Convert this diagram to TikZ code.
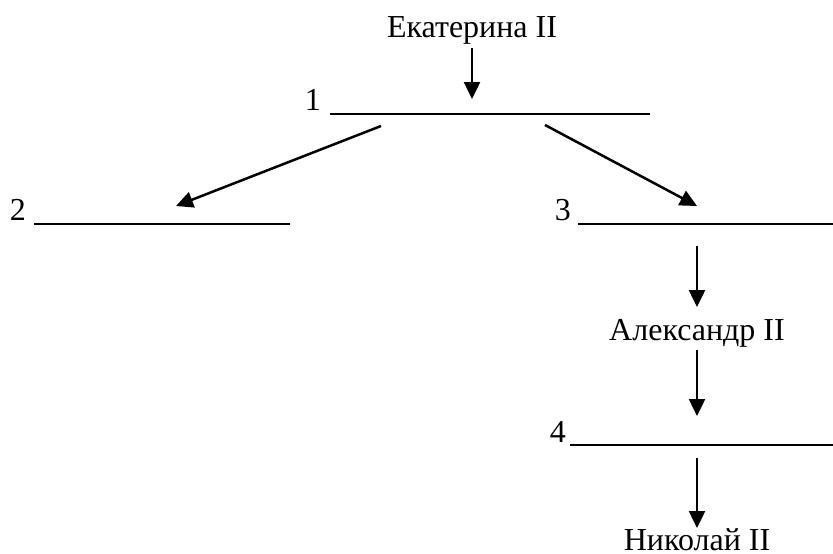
\documentclass[tikz,border=0pt]{standalone}
\usepackage{fontspec}
\setmainfont{Liberation Serif}
\usetikzlibrary{arrows.meta}
\begin{document}
\begin{tikzpicture}[x=1pt,y=-1pt,
  lbl/.style={inner sep=0pt,font=\fontsize{32}{38}\selectfont},
  blank/.style={line width=1.9pt},
  arr/.style={line width=2.5pt,-{Triangle[length=17pt,width=16pt]}}]
\useasboundingbox (0,0) rectangle (833,554);
% texts
\node[lbl,anchor=base] (ek) at (472,37) {Екатерина II};
\node[lbl,anchor=base east] (n1) at (321,110) {1};
\node[lbl,anchor=base east] (n2) at (26,220) {2};
\node[lbl,anchor=base east] (n3) at (571,220) {3};
\node[lbl,anchor=base] (al) at (697,340) {Александр II};
\node[lbl,anchor=base east] (n4) at (566,442) {4};
\node[lbl,anchor=base] (ni) at (697,550) {Николай II};
% blank lines
\coordinate (b1s) at (330,114); \coordinate (b1e) at (650,114);
\coordinate (b2s) at (34,224);  \coordinate (b2e) at (290,224);
\coordinate (b3s) at (578,224); \coordinate (b3e) at (833,224);
\coordinate (b4s) at (570,445); \coordinate (b4e) at (833,445);
\draw[blank] (b1s) -- (b1e);
\draw[blank] (b2s) -- (b2e);
\draw[blank] (b3s) -- (b3e);
\draw[blank] (b4s) -- (b4e);
% arrow ends
\coordinate (a0s) at (472,48);  \coordinate (a0e) at (472,99);
\coordinate (aLs) at (381,126); \coordinate (aLe) at (176,206);
\coordinate (aRs) at (545,125); \coordinate (aRe) at (697,206);
\coordinate (a3s) at (697,246); \coordinate (a3e) at (697,307);
\coordinate (aAs) at (697,350); \coordinate (aAe) at (697,416);
\coordinate (a4s) at (697,458); \coordinate (a4e) at (697,528);
\draw[arr] (a0s) -- (a0e);
\draw[arr] (aLs) -- (aLe);
\draw[arr] (aRs) -- (aRe);
\draw[arr] (a3s) -- (a3e);
\draw[arr] (aAs) -- (aAe);
\draw[arr] (a4s) -- (a4e);
\end{tikzpicture}
\end{document}
